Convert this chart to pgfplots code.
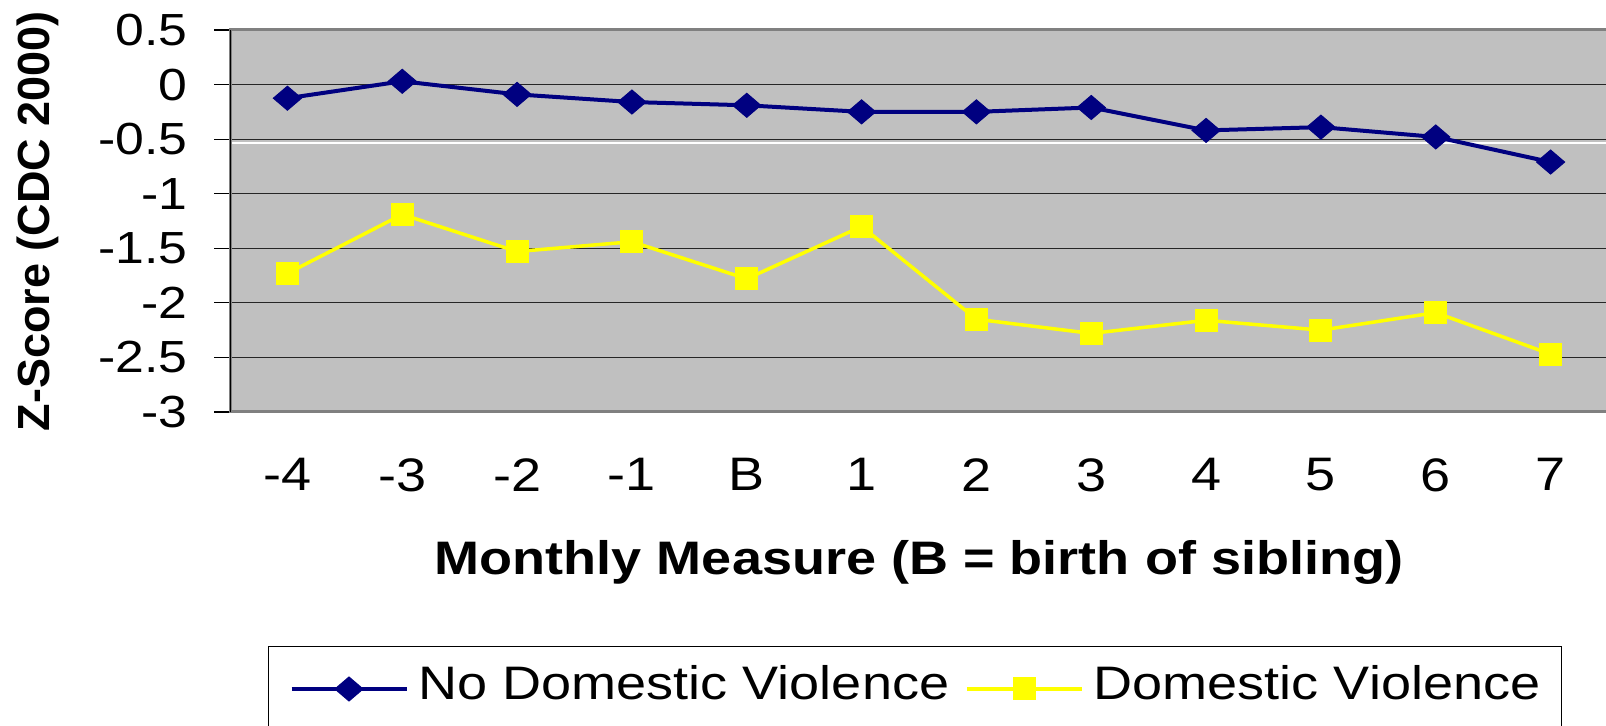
\documentclass[border=0pt]{standalone}
\usepackage{fontspec}
\setmainfont{Liberation Sans}[FakeStretch=1.15]
\newfontfamily\ytitlefont{Liberation Sans}
\usepackage{pgfplots}
\pgfplotsset{compat=1.18}
\definecolor{navy}{RGB}{0,0,128}
\definecolor{yel}{RGB}{255,255,0}
\definecolor{plotbg}{RGB}{192,192,192}
\definecolor{framegray}{RGB}{128,128,128}
\begin{document}
\begin{tikzpicture}
\useasboundingbox (0,0) rectangle (803pt,363pt);
\clip (0,0) rectangle (803pt,363pt);
\begin{axis}[
  at={(115pt,157pt)}, anchor=south west,
  scale only axis, width=689pt, height=191pt,
  xmin=-0.5, xmax=11.5, ymin=-3, ymax=0.5,
  xtick={0,1,2,3,4,5,6,7,8,9,10,11},
  xticklabels={-4,-3,-2,-1,B,1,2,3,4,5,6,7},
  ytick={-3,-2.5,-2,-1.5,-1,-0.5,0,0.5},
  yticklabels={-3,-2.5,-2,-1.5,-1,-0.5,0,0.5},
  axis background/.style={fill=plotbg},
  ymajorgrids, grid style={draw=black!85, line width=0.6pt},
  axis line style={draw=framegray, line width=1.5pt},
  tick align=outside, ytick pos=left,
  major tick length=8pt,
  ytick style={draw=black, line width=0.6pt},
  xtick style={draw=none},
  yticklabel style={font=\fontsize{22.5}{26}\selectfont, anchor=east, inner sep=0pt, xshift=-13pt},
  xticklabel style={font=\fontsize{23.5}{27}\selectfont, anchor=north, inner sep=0pt, yshift=-15pt},
  xlabel={Monthly Measure (B = birth of sibling)},
  xlabel style={at={([yshift=-81.5pt]axis description cs:0.5,0)}, anchor=base, font=\fontsize{23.5}{28}\selectfont\bfseries, inner sep=0pt},
  ylabel={Z-Score (CDC 2000)},
  ylabel style={at={([xshift=-90pt]axis description cs:0,0.5)}, anchor=base, font=\ytitlefont\fontsize{22.5}{27}\selectfont\bfseries, inner sep=0pt},
  legend columns=2,
  legend style={at={([xshift=19pt,yshift=-117pt]axis description cs:0,0)}, anchor=north west,
    draw=black, line width=0.5pt, fill=white, inner xsep=10.5pt, inner ysep=0pt,
    font=\fontsize{23.5}{27}\selectfont,
    nodes={inner sep=0pt, text height=26.5pt, text depth=20pt},
    /tikz/every odd column/.append style={column sep=5pt},
    /tikz/every even column/.append style={column sep=8pt}},
  legend image code/.code={\draw[mark repeat=2,mark phase=2,#1] plot coordinates {(0pt,2pt)(28.75pt,2pt)(57.5pt,2pt)};},
]
\draw[white, line width=0.6pt] (axis cs:-0.48,-0.535) -- (axis cs:11.5,-0.535);
\addplot[color=navy, line width=2pt, mark=diamond*, mark size=6pt,
  mark options={xscale=1.56, fill=navy, draw=navy, line width=0.5pt}]
  coordinates {(0,-0.125) (1,0.03) (2,-0.09) (3,-0.16) (4,-0.19) (5,-0.25) (6,-0.25) (7,-0.21) (8,-0.42) (9,-0.39) (10,-0.48) (11,-0.71)};
\addlegendentry{No Domestic Violence}
\addplot[color=yel, line width=1.75pt, mark=square*, mark size=5.5pt,
  mark options={fill=yel, draw=yel, line width=0.5pt}]
  coordinates {(0,-1.73) (1,-1.19) (2,-1.53) (3,-1.44) (4,-1.78) (5,-1.30) (6,-2.15) (7,-2.28) (8,-2.16) (9,-2.25) (10,-2.09) (11,-2.47)};
\addlegendentry{Domestic Violence}
\draw[black, line width=1pt] (axis description cs:0,0) -- (axis description cs:0,1);
\end{axis}
\end{tikzpicture}
\end{document}
